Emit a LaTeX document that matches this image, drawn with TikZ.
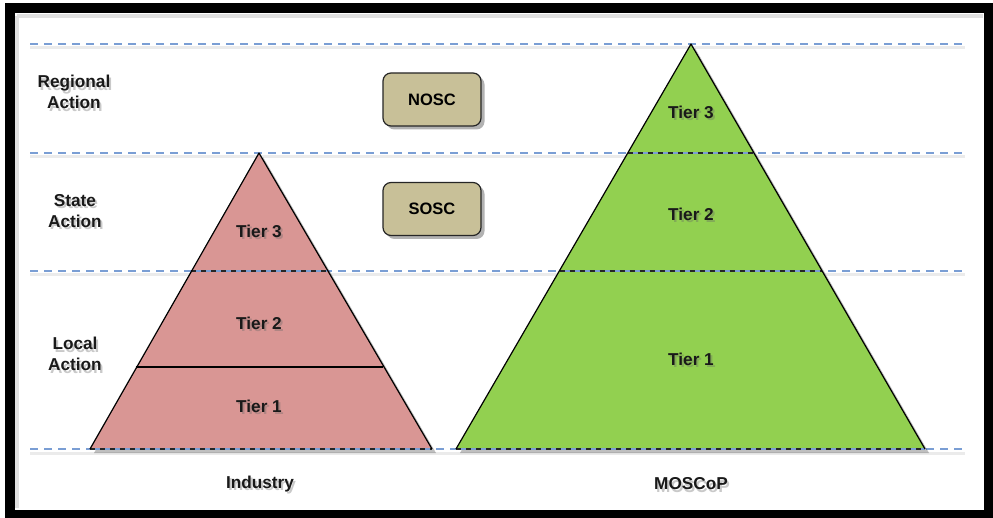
\documentclass[tikz,border=0pt]{standalone}
\usepackage{fontspec}
\setmainfont{Liberation Sans}
\usetikzlibrary{shadows}
\definecolor{dashblue}{RGB}{122,158,212}
\definecolor{tierpink}{RGB}{217,150,148}
\definecolor{tiergreen}{RGB}{146,208,80}
\definecolor{boxtan}{RGB}{200,192,152}
\newcommand\mylbl[3]{%
  \node[lbl,text=black!60,opacity=.35] (#1s) at ([xshift=2pt,yshift=-2.5pt]#2) {#3};%
  \node[lbl] (#1) at (#2) {#3};}
\begin{document}
\begin{tikzpicture}[x=1pt,y=-1pt,
  lbl/.style={font=\bfseries\fontsize{17.2}{21}\selectfont, text=black!90, align=center, inner sep=0pt},
  guide/.style={draw=dashblue, line width=1.4pt, dash pattern=on 8pt off 6pt},
  tierline/.style={draw=black, line width=1.1pt},
  tierdash/.style={draw=black!85, line width=1.3pt, dash pattern=on 5pt off 5pt},
  tri/.style={line width=1.2pt, line join=round,
    drop shadow={shadow xshift=4pt, shadow yshift=-4pt, opacity=.25, fill=black}},
  orgbox/.style={draw=black!85, line width=1.2pt, fill=boxtan, rounded corners=8pt,
    minimum width=98pt, minimum height=53pt,
    font=\bfseries\fontsize{16.5}{20}\selectfont,
    drop shadow={shadow xshift=3.5pt, shadow yshift=-3.5pt, opacity=.3, fill=black}}]
\useasboundingbox (0,0) rectangle (993,518);
\fill[white] (0,0) rectangle (993,518);

% guide lines
\coordinate (g1l) at (30,44);  \coordinate (g1r) at (965,44);
\coordinate (g2l) at (30,153); \coordinate (g2r) at (965,153);
\coordinate (g3l) at (30,271); \coordinate (g3r) at (965,271);
\coordinate (g4l) at (30,449); \coordinate (g4r) at (965,449);
\foreach \a/\b in {g1l/g1r,g2l/g2r,g3l/g3r,g4l/g4r}
  \draw[black!8, line width=3pt] ([yshift=-4pt]\a) -- ([yshift=-4pt]\b);
\foreach \a/\b in {g1l/g1r,g2l/g2r,g3l/g3r,g4l/g4r}
  \draw[guide] (\a) -- (\b);

% left triangle (Industry)
\coordinate (la) at (259,153);
\coordinate (lb) at (90,449);
\coordinate (lc) at (432,449);
\path[tri, fill=tierpink] (lb) -- (la) -- (lc) -- cycle;
\coordinate (l3a) at (191,271); \coordinate (l3b) at (327,271);
\coordinate (l2a) at (135.6,367); \coordinate (l2b) at (383.4,367);
\draw[tierline] (l2a) -- (l2b);
\foreach \a/\b in {l3a/l3b,lb/lc}{
  \draw[dashblue, line width=1.3pt] (\a) -- (\b);
  \draw[tierdash] (\a) -- (\b);}
\draw[black, line width=1.2pt, line join=round] (lb) -- (la) -- (lc);

% right triangle (MOSCoP)
\coordinate (ra) at (691,44);
\coordinate (rb) at (456,449);
\coordinate (rc) at (925,449);
\path[tri, fill=tiergreen] (rb) -- (ra) -- (rc) -- cycle;
\coordinate (r3a) at (627.8,153); \coordinate (r3b) at (754.2,153);
\coordinate (r2a) at (559.6,271); \coordinate (r2b) at (822.4,271);
\foreach \a/\b in {r3a/r3b,r2a/r2b,rb/rc}{
  \draw[dashblue, line width=1.3pt] (\a) -- (\b);
  \draw[tierdash] (\a) -- (\b);}
\draw[black, line width=1.2pt, line join=round] (rb) -- (ra) -- (rc);

% boxes
\node[orgbox] (nosc) at (432,99.5) {NOSC};
\node[orgbox] (sosc) at (432,209) {SOSC};

% side labels
\mylbl{reg}{74,92}{Regional\\Action}
\mylbl{sta}{75,211}{State\\Action}
\mylbl{loc}{75,354}{Local\\Action}

% tier labels
\mylbl{lt3}{259,231}{Tier 3}
\mylbl{lt2}{259,323}{Tier 2}
\mylbl{lt1}{259,406}{Tier 1}
\mylbl{rt3}{691,112}{Tier 3}
\mylbl{rt2}{691,214}{Tier 2}
\mylbl{rt1}{691,359}{Tier 1}

% bottom labels
\mylbl{ind}{260,484}{Industry}
\mylbl{mos}{691,484}{MOSCoP}

% frame
\draw[black!12, line width=4pt] (17,16) -- (983,16);
\draw[black!12, line width=4pt] (17,16) -- (17,508);
\draw[black, line width=10pt] (10,8.5) rectangle (988.5,514.5);
\end{tikzpicture}
\end{document}
